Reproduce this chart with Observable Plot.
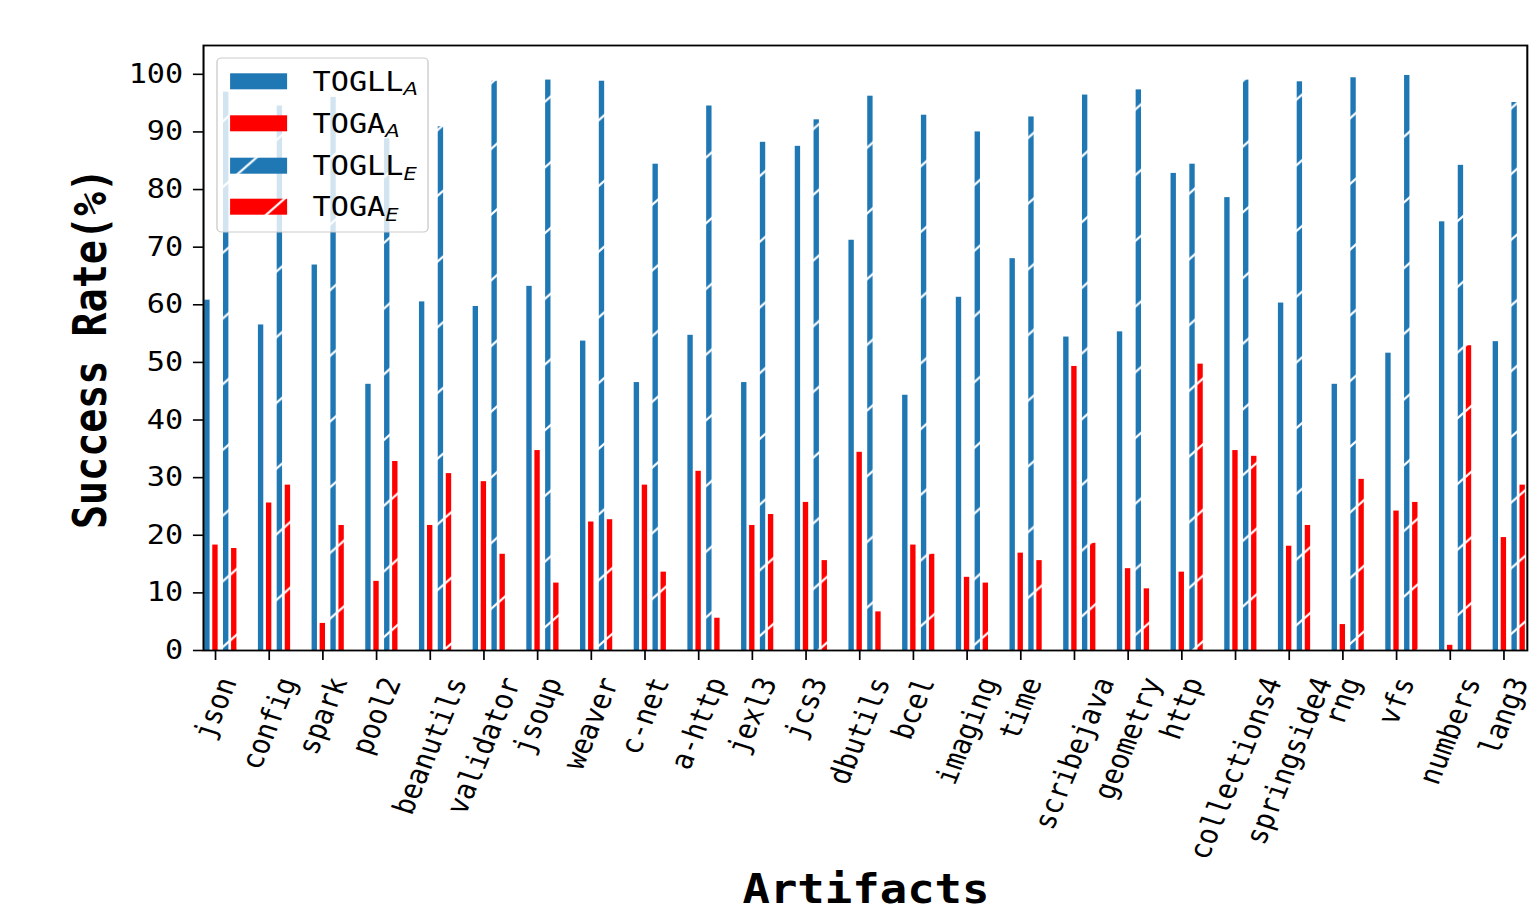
<!DOCTYPE html>
<html><head><meta charset="utf-8">
<script src="https://cdn.jsdelivr.net/npm/d3@7"></script>
<script src="https://cdn.jsdelivr.net/npm/@observablehq/plot@0.6"></script>
<style>html,body{margin:0;padding:0;background:#fff;} #chart{width:1537px;height:915px;overflow:hidden;}</style>
</head><body><div id="chart"></div>
<script>
// ---- data ----
const artifacts = ["json","config","spark","pool2","beanutils","validator","jsoup","weaver","c-net","a-http","jexl3","jcs3","dbutils","bcel","imaging","time","scribejava","geometry","http","collections4","springside4","rng","vfs","numbers","lang3"];
const togllA = [60.8,56.5,66.9,46.2,60.5,59.7,63.2,53.7,46.5,54.7,46.5,87.5,71.2,44.3,61.3,68.0,54.4,55.3,82.8,78.6,60.3,46.2,51.6,74.4,53.6];
const togaA  = [18.3,25.6,4.7,12.0,21.7,29.3,34.7,22.3,28.7,31.1,21.7,25.7,34.4,18.3,12.7,16.9,49.3,14.2,13.6,34.7,18.1,4.5,24.2,0.9,19.6];
const togllE = [96.9,94.5,96.0,88.8,90.9,98.8,99.0,98.8,84.4,94.5,88.2,92.1,96.2,92.9,90.0,92.6,96.4,97.3,84.4,99.0,98.7,99.4,99.8,84.2,95.1];
const togaE  = [17.7,28.7,21.7,32.8,30.7,16.7,11.7,22.7,13.6,5.6,23.6,15.6,6.7,16.7,11.7,15.6,18.6,10.7,49.7,33.7,21.7,29.7,25.7,52.9,28.7];
const seriesNames = ["TOGLL","TOGA","TOGLL","TOGA"];
const seriesSubs  = ["A","A","E","E"];
const yTicks = [0,10,20,30,40,50,60,70,80,90,100];
const xTitle = "Artifacts";
const yTitle = "Success Rate(%)";

// ---- layout / style ----
const REAL_W = 1537, H = 915;
const W = 1348;                 // drawing width before horizontal stretch
const offsets = [-0.15, 0, 0.2, 0.35];
const barW = 0.1;
const fills = ["#1f77b4", "#ff0000", "url(#hatch-blue)", "url(#hatch-red)"];
const seriesValues = [togllA, togaA, togllE, togaE];

const barMarks = seriesValues.map((vals, k) =>
  Plot.rect(artifacts.map((a, i) => ({artifact: a, i, value: vals[i]})), {
    x1: d => d.i + offsets[k] - barW / 2,
    x2: d => d.i + offsets[k] + barW / 2,
    y1: 0,
    y2: "value",
    fill: fills[k]
  })
);

const plot = Plot.plot({
  width: W,
  height: H,
  marginLeft: 178,
  marginRight: 9,
  marginTop: 45,
  marginBottom: 265,
  style: {fontFamily: "DejaVu Sans Mono", fontSize: "26.5px", color: "black", background: "white"},
  x: {type: "linear", domain: [-0.2235, 24.435]},
  y: {domain: [0, 105]},
  marks: [
    ...barMarks,
    Plot.frame({stroke: "black", strokeWidth: 1.8}),
    Plot.axisY({ticks: yTicks, tickSize: 8.8, tickPadding: 9, strokeWidth: 1.6, label: null}),
    Plot.axisX({ticks: d3.range(artifacts.length), tickSize: 10, strokeWidth: 1.5, fill: "none", tickFormat: () => null, label: null})
  ]
});

const svg = d3.select(plot);
const xs = plot.scale("x");

// hatch patterns
const P = 65.7;
const defs = svg.insert("defs", ":first-child");
[["hatch-blue", "#1f77b4"], ["hatch-red", "#ff0000"]].forEach(([id, c]) => {
  const p = defs.append("pattern").attr("id", id).attr("patternUnits", "userSpaceOnUse")
    .attr("x", 54).attr("y", 0).attr("width", P).attr("height", P);
  p.append("rect").attr("width", P).attr("height", P).attr("fill", c);
  p.append("path").attr("d", `M-3,3L3,-3M0,${P}L${P},0M${P-3},${P+3}L${P+3},${P-3}`)
    .attr("stroke", "white").attr("stroke-width", 2).attr("fill", "none");
});

// x tick labels (rotated 70°, bbox centred on tick, top aligned)
const fsT = 26.5, a70 = 70 * Math.PI / 180;
const gx = svg.append("g").attr("font-family", "DejaVu Sans Mono").attr("font-size", fsT).attr("fill", "black");
artifacts.forEach((name, i) => {
  const Lw = name.length * 0.602 * fsT, hh = 1.164 * fsT;
  const bh = Lw * Math.sin(a70) + hh * Math.cos(a70);
  gx.append("text")
    .attr("transform", `translate(${xs.apply(i)},${673 + bh / 2}) rotate(-70)`)
    .attr("text-anchor", "middle").attr("dy", "0.346em").text(name);
});

// axis titles
svg.append("text").attr("font-family", "DejaVu Sans Mono").attr("font-weight", "bold").attr("font-size", 40)
  .attr("text-anchor", "middle").attr("x", (178 + W - 9) / 2 + 1).attr("y", 903).text(xTitle);
svg.append("text").attr("font-family", "DejaVu Sans Mono").attr("font-weight", "bold").attr("font-size", 40)
  .attr("text-anchor", "middle").attr("transform", "translate(93.4,348.5) rotate(-90)").text(yTitle);

// legend
const lg = svg.append("g").attr("text-anchor", "start");
lg.append("rect").attr("x", 190.3).attr("y", 58).attr("width", 185.1).attr("height", 174).attr("rx", 4)
  .attr("fill", "white").attr("fill-opacity", 0.8).attr("stroke", "#cccccc").attr("stroke-width", 1.2);
const rowY = [81.3, 123.3, 165.7, 206.7];
seriesNames.forEach((nm, k) => {
  const cy = rowY[k];
  lg.append("rect").attr("x", 201.8).attr("y", cy - 8).attr("width", 50).attr("height", 16).attr("fill", fills[k]);
  const t = lg.append("text").attr("x", 274.1).attr("y", cy + 9.7).attr("text-anchor", "start")
    .attr("font-family", "DejaVu Sans Mono").attr("font-size", 26.5).attr("fill", "black").text(nm);
  t.append("tspan").attr("font-family", "DejaVu Sans").attr("font-style", "italic")
    .attr("font-size", 18.5).attr("dy", 4.5).text(seriesSubs[k]);
});

// horizontal stretch of the whole figure
plot.setAttribute("width", REAL_W);
plot.setAttribute("height", H);
plot.setAttribute("viewBox", `0 0 ${W} ${H}`);
plot.setAttribute("preserveAspectRatio", "none");
plot.style.width = REAL_W + "px";
plot.style.height = H + "px";
plot.style.maxWidth = "none";
document.getElementById("chart").appendChild(plot);
</script>
</body></html>
